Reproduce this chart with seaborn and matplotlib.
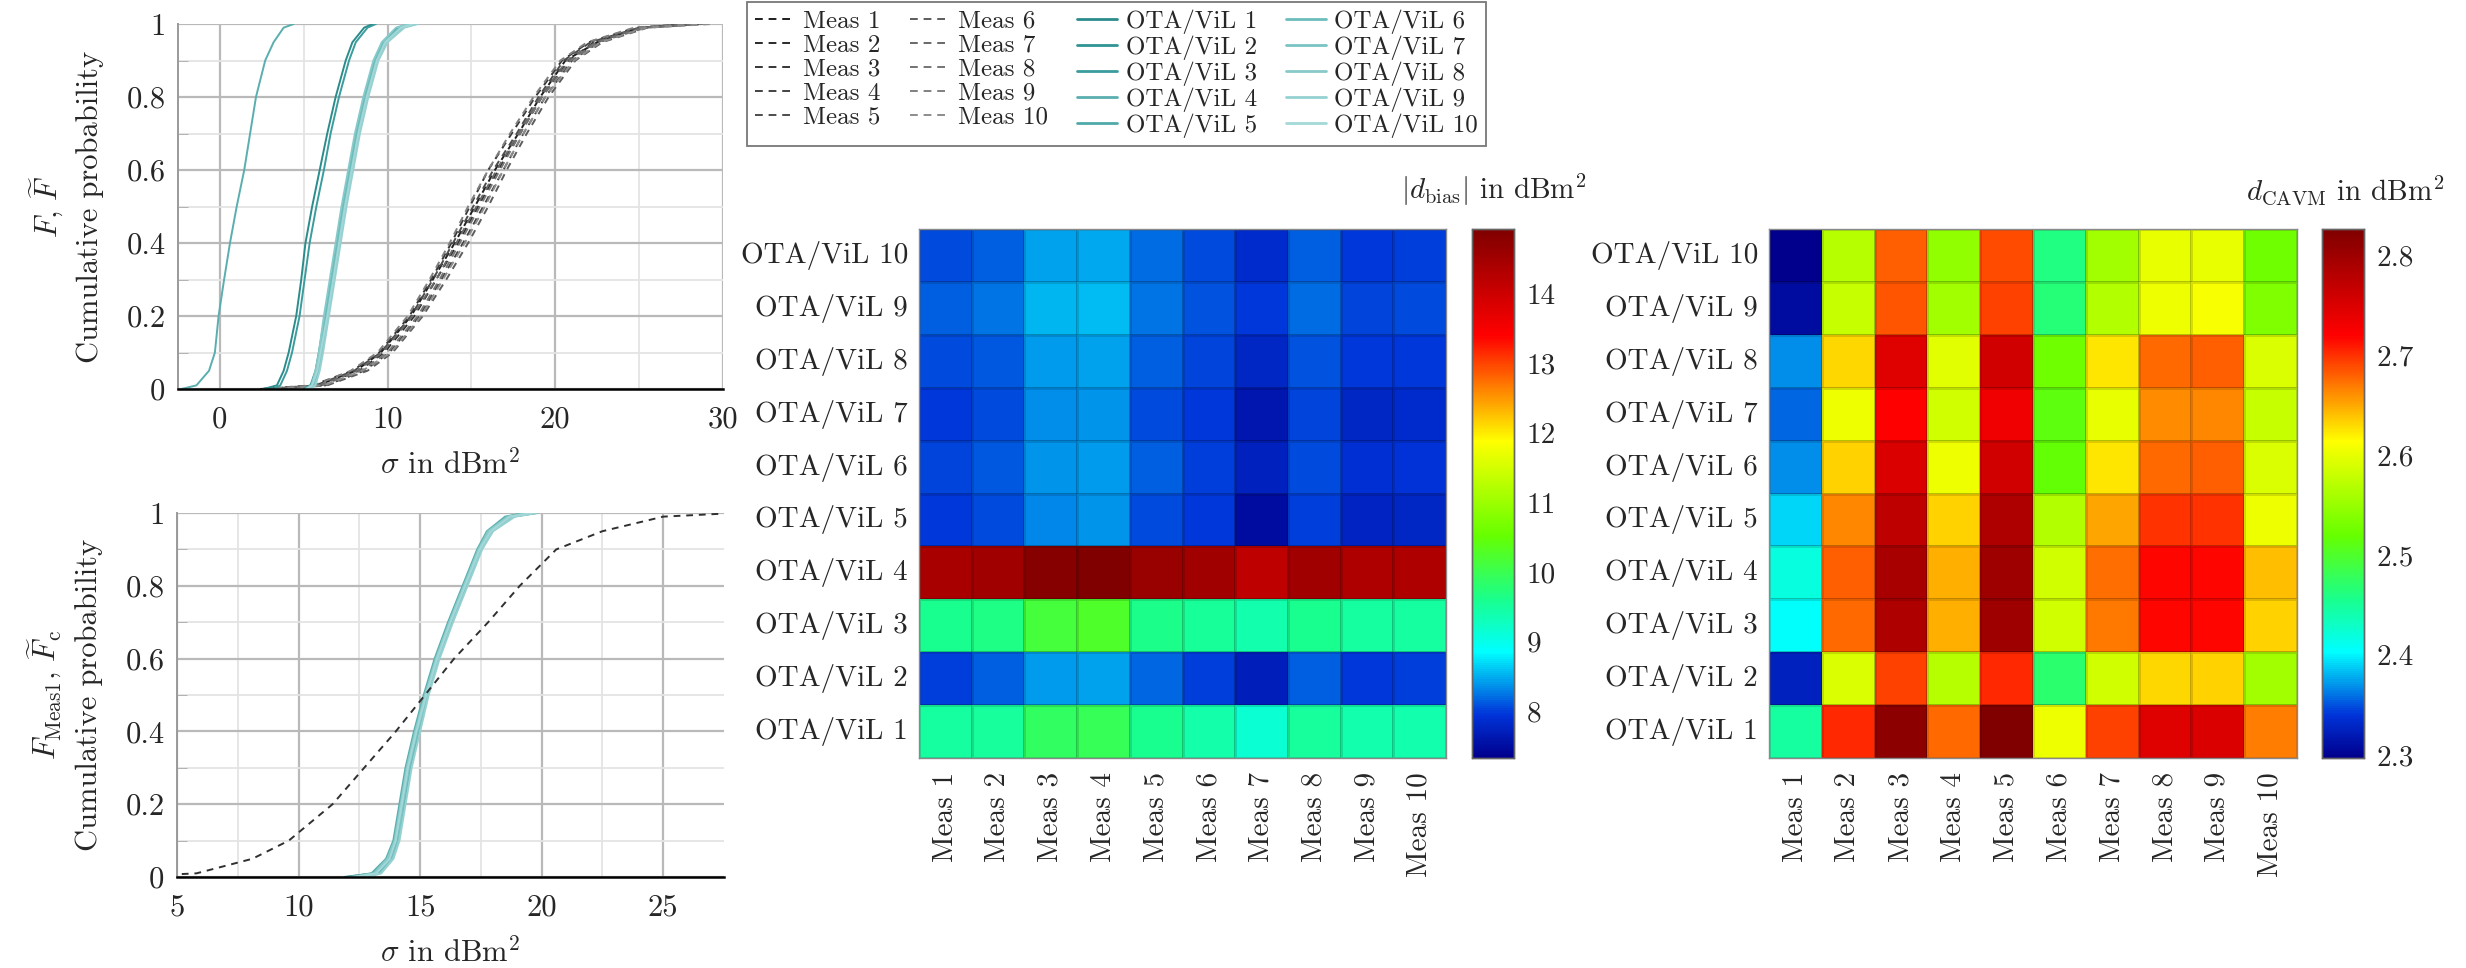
import matplotlib
matplotlib.use("Agg")
import matplotlib.pyplot as plt
import numpy as np
import pandas as pd
import seaborn as sns
from matplotlib.colors import LinearSegmentedColormap
from matplotlib.lines import Line2D

# ---------------------------------------------------------------- data
levels = [0, 0.01, 0.05, 0.1, 0.2, 0.3, 0.4, 0.5, 0.6, 0.7, 0.8, 0.9, 0.95, 0.99, 1.0]

meas_names = ["Meas 1", "Meas 2", "Meas 3", "Meas 4", "Meas 5",
              "Meas 6", "Meas 7", "Meas 8", "Meas 9", "Meas 10"]
ota_names = ["OTA/ViL 1", "OTA/ViL 2", "OTA/ViL 3", "OTA/ViL 4", "OTA/ViL 5",
             "OTA/ViL 6", "OTA/ViL 7", "OTA/ViL 8", "OTA/ViL 9", "OTA/ViL 10"]

# quantiles (sigma in dBm^2) of the measured CDFs at the probability levels
meas1 = [2.6, 5.8, 8.1, 9.6, 11.4, 12.7, 14.0, 15.2, 16.4, 17.8, 19.1, 20.6, 22.5, 25.0, 28.0]
meas2 = [3.0, 6.0, 8.3, 9.8, 11.6, 12.9, 14.2, 15.4, 16.6, 17.9, 19.2, 20.8, 22.3, 25.2, 28.5]
meas3 = [2.4, 5.5, 7.9, 9.5, 11.3, 12.6, 13.8, 14.9, 16.0, 17.4, 18.8, 20.4, 22.0, 24.8, 27.8]
meas4 = [3.2, 6.3, 8.6, 10.1, 11.9, 13.2, 14.5, 15.7, 16.9, 18.1, 19.4, 21.0, 22.6, 25.3, 28.2]
meas5 = [2.8, 5.7, 8.0, 9.6, 11.4, 12.7, 13.9, 15.1, 16.3, 17.7, 19.0, 20.5, 22.1, 25.0, 28.6]
meas6 = [3.4, 6.4, 8.8, 10.3, 12.1, 13.5, 14.8, 16.0, 17.1, 18.3, 19.6, 21.2, 22.8, 25.5, 29.0]
meas7 = [2.9, 5.9, 8.2, 9.7, 11.5, 12.9, 14.1, 15.3, 16.5, 17.8, 19.1, 20.7, 22.4, 25.1, 28.3]
meas8 = [3.1, 6.1, 8.4, 10.0, 11.8, 13.1, 14.3, 15.5, 16.7, 17.9, 19.2, 20.9, 22.5, 25.4, 28.8]
meas9 = [2.5, 5.6, 7.8, 9.4, 11.2, 12.5, 13.7, 14.8, 16.0, 17.3, 18.7, 20.3, 21.9, 24.7, 27.9]
meas10 = [3.3, 6.2, 8.5, 10.2, 12.0, 13.3, 14.6, 15.8, 16.9, 18.1, 19.4, 21.1, 22.7, 25.4, 29.3]

# quantiles of the OTA/ViL CDFs
ota1 = [2.6, 3.4, 3.8, 4.1, 4.55, 4.85, 5.1, 5.5, 5.95, 6.4, 6.9, 7.5, 7.9, 8.6, 9.1]
ota2 = [5.0, 5.4, 5.7, 5.9, 6.25, 6.6, 6.95, 7.3, 7.7, 8.1, 8.6, 9.2, 9.7, 10.6, 11.3]
ota3 = [3.2, 3.6, 4.0, 4.3, 4.75, 5.05, 5.35, 5.75, 6.2, 6.6, 7.1, 7.7, 8.1, 8.8, 9.3]
ota4 = [-2.3, -1.4, -0.65, -0.3, -0.08, 0.25, 0.6, 1.0, 1.45, 1.8, 2.15, 2.7, 3.2, 3.8, 4.4]
ota5 = [5.2, 5.5, 5.8, 6.0, 6.35, 6.7, 7.05, 7.4, 7.8, 8.2, 8.7, 9.3, 9.8, 10.8, 11.6]
ota6 = [5.1, 5.5, 5.75, 5.95, 6.3, 6.65, 7.0, 7.35, 7.75, 8.15, 8.65, 9.25, 9.75, 10.7, 11.4]
ota7 = [5.3, 5.6, 5.9, 6.1, 6.45, 6.8, 7.15, 7.5, 7.9, 8.3, 8.8, 9.4, 9.9, 10.9, 11.7]
ota8 = [5.1, 5.45, 5.7, 5.9, 6.2, 6.55, 6.9, 7.25, 7.65, 8.05, 8.55, 9.15, 9.65, 10.5, 11.2]
ota9 = [5.4, 5.7, 5.95, 6.15, 6.5, 6.85, 7.2, 7.55, 7.95, 8.35, 8.85, 9.45, 10.0, 11.0, 11.8]
ota10 = [5.2, 5.5, 5.8, 6.0, 6.4, 6.75, 7.1, 7.45, 7.85, 8.25, 8.75, 9.35, 9.85, 10.8, 11.5]

# quantiles of the calibrated OTA/ViL CDFs (lower panel)
cal1 = [11.9, 13.1, 13.7, 13.95, 14.2, 14.45, 14.8, 15.2, 15.65, 16.2, 16.8, 17.4, 17.8, 18.6, 19.5]
cal2 = [12.3, 13.2, 13.75, 14.0, 14.25, 14.5, 14.85, 15.25, 15.7, 16.25, 16.85, 17.45, 17.85, 18.7, 19.6]
cal3 = [12.5, 13.3, 13.8, 14.05, 14.3, 14.55, 14.9, 15.3, 15.75, 16.3, 16.9, 17.5, 17.9, 18.8, 19.8]
cal4 = [12.0, 13.0, 13.6, 13.9, 14.15, 14.4, 14.75, 15.15, 15.6, 16.15, 16.75, 17.35, 17.75, 18.5, 19.3]
cal5 = [12.6, 13.25, 13.8, 14.1, 14.35, 14.6, 14.95, 15.3, 15.75, 16.3, 16.9, 17.45, 17.9, 18.7, 19.6]
cal6 = [12.4, 13.15, 13.7, 14.0, 14.25, 14.5, 14.85, 15.25, 15.7, 16.2, 16.8, 17.4, 17.85, 18.65, 19.5]
cal7 = [12.7, 13.35, 13.85, 14.1, 14.3, 14.55, 14.9, 15.3, 15.75, 16.25, 16.85, 17.5, 17.95, 18.8, 19.7]
cal8 = [12.2, 13.1, 13.65, 13.95, 14.2, 14.45, 14.8, 15.2, 15.65, 16.2, 16.8, 17.4, 17.8, 18.6, 19.4]
cal9 = [12.8, 13.4, 13.9, 14.15, 14.4, 14.65, 15.0, 15.35, 15.8, 16.35, 16.95, 17.55, 18.0, 18.9, 19.8]
cal10 = [12.3, 13.2, 13.75, 14.0, 14.25, 14.5, 14.85, 15.25, 15.7, 16.25, 16.85, 17.45, 17.9, 18.7, 19.6]

# |d_bias| per OTA/ViL row, columns Meas 1..10
bias_ota1 = [9.47, 9.52, 9.89, 9.95, 9.61, 9.43, 9.15, 9.52, 9.38, 9.38]
bias_ota2 = [8.00, 8.14, 8.40, 8.44, 8.17, 8.00, 7.71, 8.14, 7.96, 8.00]
bias_ota3 = [9.61, 9.66, 10.14, 10.26, 9.63, 9.55, 9.38, 9.60, 9.47, 9.47]
bias_ota4 = [14.44, 14.54, 14.84, 14.93, 14.63, 14.54, 14.17, 14.54, 14.35, 14.35]
bias_ota5 = [7.96, 8.06, 8.33, 8.37, 8.06, 7.96, 7.50, 8.00, 7.75, 7.80]
bias_ota6 = [8.04, 8.12, 8.37, 8.42, 8.14, 8.00, 7.73, 8.06, 7.90, 7.95]
bias_ota7 = [7.96, 8.06, 8.35, 8.38, 8.06, 7.96, 7.62, 8.03, 7.80, 7.85]
bias_ota8 = [8.06, 8.12, 8.40, 8.44, 8.14, 8.04, 7.78, 8.10, 7.96, 7.96]
bias_ota9 = [8.14, 8.23, 8.53, 8.56, 8.23, 8.10, 7.96, 8.20, 8.04, 8.06]
bias_ota10 = [8.06, 8.15, 8.44, 8.48, 8.21, 8.06, 7.85, 8.14, 7.96, 8.00]

# d_CAVM per OTA/ViL row, columns Meas 1..10
cavm_ota1 = [2.446, 2.704, 2.816, 2.677, 2.827, 2.605, 2.694, 2.746, 2.752, 2.668]
cavm_ota2 = [2.325, 2.591, 2.694, 2.570, 2.704, 2.469, 2.585, 2.631, 2.634, 2.556]
cavm_ota3 = [2.406, 2.677, 2.786, 2.648, 2.800, 2.585, 2.671, 2.717, 2.717, 2.634]
cavm_ota4 = [2.417, 2.681, 2.793, 2.648, 2.800, 2.585, 2.674, 2.717, 2.719, 2.641]
cavm_ota5 = [2.391, 2.665, 2.774, 2.634, 2.786, 2.566, 2.651, 2.700, 2.700, 2.605]
cavm_ota6 = [2.368, 2.634, 2.752, 2.605, 2.760, 2.518, 2.624, 2.677, 2.681, 2.591]
cavm_ota7 = [2.356, 2.605, 2.721, 2.585, 2.733, 2.514, 2.600, 2.662, 2.665, 2.580]
cavm_ota8 = [2.368, 2.631, 2.746, 2.596, 2.760, 2.526, 2.624, 2.677, 2.681, 2.591]
cavm_ota9 = [2.308, 2.580, 2.684, 2.556, 2.694, 2.465, 2.566, 2.605, 2.610, 2.535]
cavm_ota10 = [2.297, 2.570, 2.681, 2.546, 2.688, 2.462, 2.556, 2.600, 2.600, 2.526]

bias_ticks = [8, 9, 10, 11, 12, 13, 14]
cavm_ticks = [2.3, 2.4, 2.5, 2.6, 2.7, 2.8]
cavm_tick_labels = ["2.3", "2.4", "2.5", "2.6", "2.7", "2.8"]

# ---------------------------------------------------------------- style
sns.set_style("white")
plt.rcParams["font.family"] = ["cmr10", "DejaVu Serif"]
plt.rcParams["mathtext.fontset"] = "cm"
plt.rcParams["axes.unicode_minus"] = False
plt.rcParams["axes.formatter.use_mathtext"] = True

meas_colors = ["#1e1e1e", "#2a2a2a", "#363636", "#424242", "#4c4c4c",
               "#5c5c5c", "#686868", "#747474", "#808080", "#8c8c8c"]
ota_colors = ["#2b8c8c", "#309494", "#3a9c9c", "#5aaeae", "#50a9a9",
              "#6cbcbc", "#7ac3c3", "#88caca", "#96d1d1", "#a4d8d8"]
dash = (0, (3.5, 3))

cmap = LinearSegmentedColormap.from_list(
    "refjet",
    [(0.0, (0.0, 0.0, 0.55)), (0.08, (0.0, 0.2, 0.85)), (0.2, (0.0, 1.0, 1.0)),
     (0.3, (0.1, 1.0, 0.55)), (0.42, (0.4, 1.0, 0.0)), (0.6, (1.0, 1.0, 0.0)),
     (0.8, (1.0, 0.0, 0.0)), (1.0, (0.5, 0.0, 0.0))])

W, H = 2466, 968
fig = plt.figure(figsize=(W / 100, H / 100), dpi=100)


def rect(x0, y0, x1, y1):
    return [x0 / W, 1 - y1 / H, (x1 - x0) / W, (y1 - y0) / H]


TICK_FS = 22
LAB_FS = 22

ax_top = fig.add_axes(rect(178, 24, 723, 389))
ax_bot = fig.add_axes(rect(177, 513, 724, 877))
ax_h1 = fig.add_axes(rect(919, 229, 1446, 758))
cax1 = fig.add_axes(rect(1472, 229, 1514, 758))
ax_h2 = fig.add_axes(rect(1769, 229, 2297, 758))
cax2 = fig.add_axes(rect(2322, 229, 2364, 758))


def style_cdf(ax, xlim, xmaj, xmin_, xlabels, ylabel):
    ax.set_xlim(*xlim)
    ax.set_ylim(0, 1)
    ax.set_xticks(xmaj)
    ax.set_xticklabels(xlabels)
    ax.set_xticks(xmin_, minor=True)
    ax.set_yticks([0, 0.2, 0.4, 0.6, 0.8, 1.0])
    ax.set_yticklabels(["0", "0.2", "0.4", "0.6", "0.8", "1"])
    ax.set_yticks([0.1, 0.3, 0.5, 0.7, 0.9], minor=True)
    ax.grid(which="major", color="#b9b9b9", lw=1.6)
    ax.grid(which="minor", color="#e4e4e4", lw=1.3)
    ax.set_axisbelow(True)
    ax.tick_params(which="major", length=0, labelsize=TICK_FS, pad=9)
    ax.tick_params(axis="x", which="major", pad=12)
    ax.tick_params(which="minor", direction="in", length=7, color="#aaaaaa",
                   left=True, bottom=False)
    for s in ["top", "right"]:
        ax.spines[s].set_visible(False)
    ax.spines["left"].set_color("#9a9a9a")
    ax.spines["left"].set_linewidth(1.4)
    ax.spines["bottom"].set_color("black")
    ax.spines["bottom"].set_linewidth(1.8)
    ax.set_xlabel(r"$\sigma$ in dBm$^2$", fontsize=LAB_FS, labelpad=11)
    ax.set_ylabel(ylabel, fontsize=LAB_FS, linespacing=1.5)
    ax.yaxis.set_label_coords(-0.135, 0.5)


# ---------------------------------------------------------------- top CDF
meas_series = [meas1, meas2, meas3, meas4, meas5, meas6, meas7, meas8, meas9, meas10]
ota_series = [ota1, ota2, ota3, ota4, ota5, ota6, ota7, ota8, ota9, ota10]
cal_series = [cal1, cal2, cal3, cal4, cal5, cal6, cal7, cal8, cal9, cal10]

for xs, c in zip(meas_series, meas_colors):
    sns.lineplot(x=xs, y=levels, ax=ax_top, color=c, lw=1.4, linestyle=dash,
                 estimator=None, sort=False, legend=False)
for xs, c in zip(ota_series, ota_colors):
    sns.lineplot(x=xs, y=levels, ax=ax_top, color=c, lw=1.4,
                 estimator=None, sort=False, legend=False)
style_cdf(ax_top, (-2.5, 30), [0, 10, 20, 30], [5, 15, 25], ["0", "10", "20", "30"],
          r"$F,\,\widetilde{F}$" + "\nCumulative probability")

# ---------------------------------------------------------------- bottom CDF
for xs, c in zip(cal_series, ota_colors):
    sns.lineplot(x=xs, y=levels, ax=ax_bot, color=c, lw=1.5,
                 estimator=None, sort=False, legend=False)
sns.lineplot(x=meas1, y=levels, ax=ax_bot, color="#303030", lw=1.4, linestyle=dash,
             estimator=None, sort=False, legend=False)
style_cdf(ax_bot, (5, 27.5), [5, 10, 15, 20, 25], [7.5, 12.5, 17.5, 22.5],
          ["5", "10", "15", "20", "25"],
          r"$F_{\mathrm{Meas1}},\,\widetilde{F}_{\mathrm{c}}$" + "\nCumulative probability")

# ---------------------------------------------------------------- legend
handles = [Line2D([], [], color=c, lw=1.4, linestyle=(0, (4, 3))) for c in meas_colors]
handles += [Line2D([], [], color=c, lw=2.0) for c in ota_colors]
leg = fig.legend(handles, meas_names + ota_names, ncol=4, loc="upper left",
                 bbox_to_anchor=(747 / W, 1 - 2 / H), fontsize=18, frameon=True,
                 fancybox=False, edgecolor="#555555", handlelength=1.6,
                 handletextpad=0.35, columnspacing=1.15, labelspacing=0.06,
                 borderpad=0.3, borderaxespad=0)
leg.get_frame().set_linewidth(1.3)

# ---------------------------------------------------------------- heatmaps
row_order = ota_names[::-1]
bias_df = pd.DataFrame([bias_ota10, bias_ota9, bias_ota8, bias_ota7, bias_ota6,
                        bias_ota5, bias_ota4, bias_ota3, bias_ota2, bias_ota1],
                       index=row_order, columns=meas_names)
cavm_df = pd.DataFrame([cavm_ota10, cavm_ota9, cavm_ota8, cavm_ota7, cavm_ota6,
                        cavm_ota5, cavm_ota4, cavm_ota3, cavm_ota2, cavm_ota1],
                       index=row_order, columns=meas_names)


def draw_heat(ax, cax, df, vmin, vmax, ticks, tlabels, title, title_right):
    sns.heatmap(df, ax=ax, cbar_ax=cax, cmap=cmap, vmin=vmin, vmax=vmax,
                linewidths=0.8, linecolor=(0, 0, 0, 0.13), square=False)
    ax.set_xlabel("")
    ax.set_ylabel("")
    ax.tick_params(length=0, labelsize=21)
    ax.tick_params(axis="y", pad=8)
    ax.tick_params(axis="x", pad=10)
    plt.setp(ax.get_yticklabels(), rotation=0)
    plt.setp(ax.get_xticklabels(), rotation=90)
    for s in ax.spines.values():
        s.set_visible(True)
        s.set_color("#8a8a8a")
        s.set_linewidth(1.0)
    cax.set_yticks(ticks)
    cax.set_yticklabels(tlabels)
    cax.tick_params(axis="y", direction="in", length=9, width=1.2, color="#8c8c8c",
                    left=True, right=True, labelsize=21, pad=9)
    for s in cax.spines.values():
        s.set_visible(True)
        s.set_color("#666666")
        s.set_linewidth(1.0)
    fig.text(title_right / W, 1 - 190 / H, title, ha="right", va="center", fontsize=21)


draw_heat(ax_h1, cax1, bias_df, 7.33, 14.93, bias_ticks, [str(t) for t in bias_ticks],
          r"$|d_{\mathrm{bias}}|$ in dBm$^2$", 1587)
draw_heat(ax_h2, cax2, cavm_df, 2.297, 2.8266, cavm_ticks, cavm_tick_labels,
          r"$d_{\mathrm{CAVM}}$ in dBm$^2$", 2444)

fig.savefig("out.png", dpi=100)
